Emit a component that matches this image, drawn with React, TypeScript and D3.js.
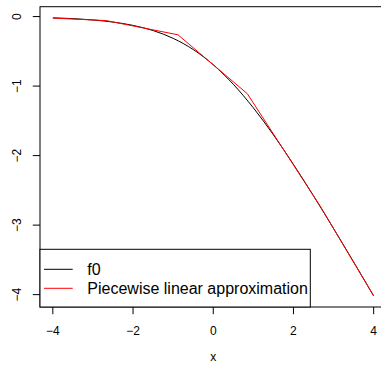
import React from "react";
import * as d3 from "d3";

const curveX = [-4, -3.5, -3, -2.5, -2, -1.5, -1, -0.5, 0, 0.5, 1, 1.5, 2, 2.5, 3, 3.5, 4];
const curveY = [-0.018, -0.03, -0.049, -0.079, -0.127, -0.201, -0.313, -0.474, -0.693, -0.974, -1.313, -1.701, -2.127, -2.579, -3.049, -3.53, -4.018];
const approxX = [-4, -2.67, -0.88, 0.85, 2.67, 4];
const approxY = [-0.022, -0.058, -0.262, -1.11, -2.73, -4.018];
const xTicks = [-4, -2, 0, 2, 4];
const yTicks = [0, -1, -2, -3, -4];
const legendLabels = ["f0", "Piecewise linear approximation"];
const legendColors = ["#000000", "#ff0000"];

export default function App() {
  const W = 381, H = 366;
  const left = 40, right = 386.5, top = 6.7, bottom = 307;
  const x = d3.scaleLinear().domain([-4.32, 4.32]).range([left, right]);
  const y = d3.scaleLinear().domain([-4.178, 0.142]).range([bottom, top]);
  const line = d3.line<[number, number]>().x(d => x(d[0])).y(d => y(d[1])).curve(d3.curveCatmullRom);
  const lin = d3.line<[number, number]>().x(d => x(d[0])).y(d => y(d[1]));
  const cData = curveX.map((v, i) => [v, curveY[i]] as [number, number]);
  const aData = approxX.map((v, i) => [v, approxY[i]] as [number, number]);
  const font = "Liberation Sans, Arial, Helvetica, sans-serif";
  const legTop = 249.3;
  return (
    <svg width={W} height={H} style={{ position: "absolute", left: 0, top: 0, background: "#fff" }} fontFamily={font}>
      <rect x={0} y={0} width={W} height={H} fill="#fff" />
      <defs>
        <clipPath id="plotclip">
          <rect x={left} y={top} width={right - left} height={bottom - top} />
        </clipPath>
      </defs>
      <g clipPath="url(#plotclip)">
        <path d={line(cData) || ""} fill="none" stroke="#000" strokeWidth={1} />
        <path d={lin(aData) || ""} fill="none" stroke="#ff0000" strokeWidth={1} />
      </g>
      <rect x={left} y={top} width={right - left} height={bottom - top} fill="none" stroke="#000" strokeWidth={1} />
      {xTicks.map(t => (
        <g key={"x" + t}>
          <line x1={x(t)} x2={x(t)} y1={bottom} y2={bottom + 7.2} stroke="#000" />
          <text x={x(t)} y={335} fontSize={12} textAnchor="middle">{t < 0 ? "\u2212" + Math.abs(t) : String(t)}</text>
        </g>
      ))}
      {yTicks.map(t => (
        <g key={"y" + t}>
          <line x1={left - 7.2} x2={left} y1={y(t)} y2={y(t)} stroke="#000" />
          <text transform={`translate(20.5,${y(t)}) rotate(-90)`} fontSize={12} textAnchor="middle">{t < 0 ? "\u2212" + Math.abs(t) : String(t)}</text>
        </g>
      ))}
      <text x={x(0)} y={361} fontSize={12} textAnchor="middle">x</text>
      <rect x={left} y={legTop} width={310.3 - left} height={bottom - legTop} fill="#fff" stroke="#000" strokeWidth={1} />
      {legendLabels.map((lab, i) => (
        <g key={lab}>
          <line x1={44} x2={72.7} y1={269.3 + i * 19} y2={269.3 + i * 19} stroke={legendColors[i]} strokeWidth={1} />
          <text x={87.3} y={275 + i * 19} fontSize={16}>{lab}</text>
        </g>
      ))}
    </svg>
  );
}
